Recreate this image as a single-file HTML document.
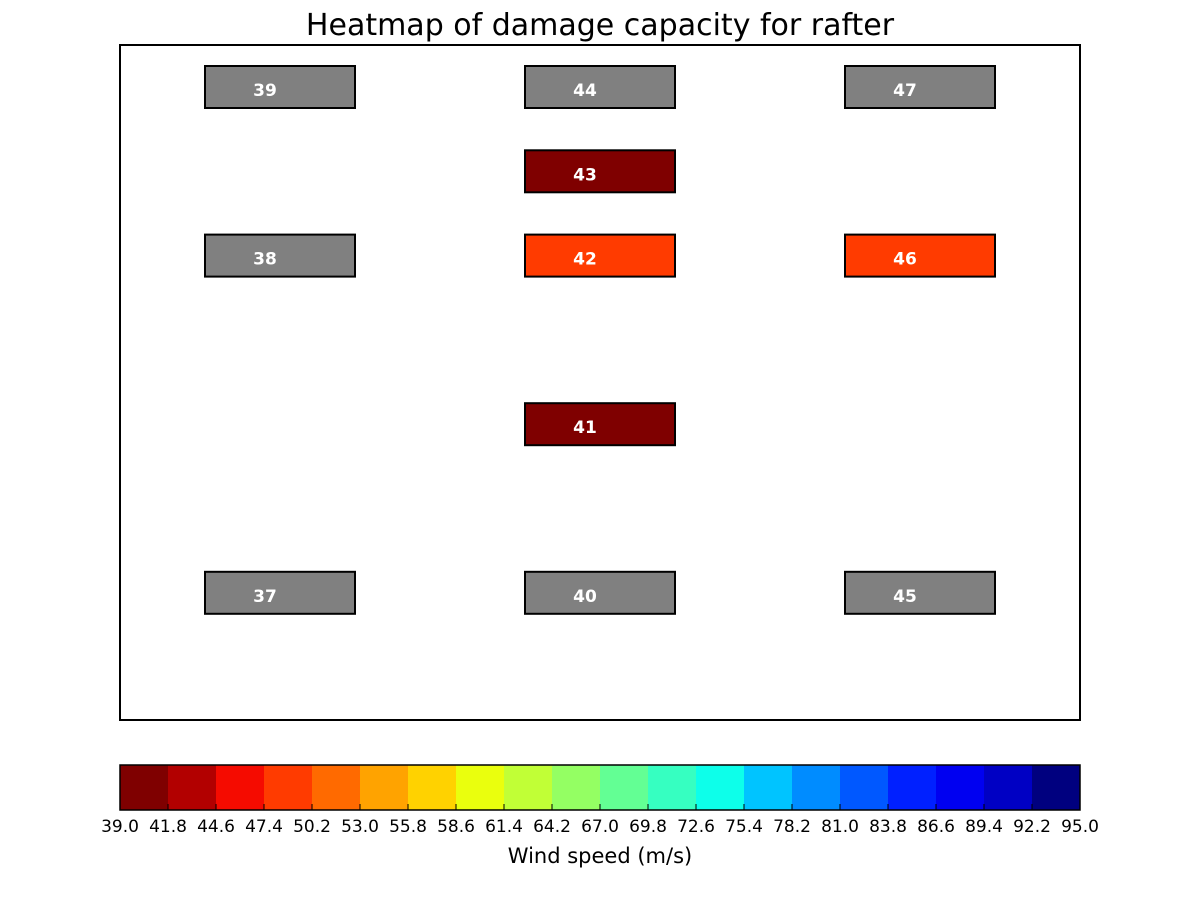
<!DOCTYPE html>
<html><head><meta charset="utf-8"><style>
html,body{margin:0;padding:0;background:#fff;}
svg{display:block;font-family:"DejaVu Sans","Liberation Sans",sans-serif;}
</style></head><body>
<svg id="chart" width="1200" height="900" xmlns="http://www.w3.org/2000/svg">
<text x="600" y="35" text-anchor="middle" font-size="30">Heatmap of damage capacity for rafter</text>
<rect x="120" y="45" width="960" height="675" fill="none" stroke="#000" stroke-width="2"/>
<g id="cells"></g>
<g id="cbar"></g>
<text x="600" y="863" text-anchor="middle" font-size="21">Wind speed (m/s)</text>
</svg>
<script>
const ids = [39,44,47,43,38,42,46,41,37,40,45];
const cols = [0,1,2,1,0,1,2,1,0,1,2];
const rows = [0,0,0,1,2,2,2,4,6,6,6];
const values = [null,null,null,40,null,48,48,40,null,null,null];
const binColors = ["#7f0000","#b20000","#f50b00","#ff3b00","#ff6a00","#ffa300","#ffd200","#eaff0d","#c1ff36","#94ff63","#63ff94","#36ffc1","#0dffea","#00c4ff","#008cff","#0058ff","#0020ff","#0000f1","#0000c4","#00007f"];
const tickLabels = ["39.0","41.8","44.6","47.4","50.2","53.0","55.8","58.6","61.4","64.2","67.0","69.8","72.6","75.4","78.2","81.0","83.8","86.6","89.4","92.2","95.0"];
const vmin=39, vmax=95;
const NS="http://www.w3.org/2000/svg";
const xCol=c=>205+c*320;
const yRow=r=>66+r*84.3;
function colorFor(v){ if(v==null) return "#808080"; let i=Math.floor((v-vmin)/(vmax-vmin)*binColors.length); i=Math.max(0,Math.min(binColors.length-1,i)); return binColors[i]; }
const gc=document.getElementById('cells');
ids.forEach((id,i)=>{
  const r=document.createElementNS(NS,'rect');
  r.setAttribute('x',xCol(cols[i]));r.setAttribute('y',yRow(rows[i]));
  r.setAttribute('width',150);r.setAttribute('height',42);
  r.setAttribute('fill',colorFor(values[i]));r.setAttribute('stroke','#000');r.setAttribute('stroke-width','2');
  
  
  gc.appendChild(r);
  const t=document.createElementNS(NS,'text');
  t.setAttribute('x',xCol(cols[i])+60);t.setAttribute('y',yRow(rows[i])+30);
  t.setAttribute('fill','#fff');t.setAttribute('font-size','17');t.setAttribute('font-weight','bold');t.setAttribute('text-anchor','middle');
  t.textContent=id;
  
  
  gc.appendChild(t);
});
const gb=document.getElementById('cbar');
const bw=960/binColors.length;
binColors.forEach((c,i)=>{
  const r=document.createElementNS(NS,'rect');
  r.setAttribute('x',120+i*bw);r.setAttribute('y',765);r.setAttribute('width',bw+0.5);r.setAttribute('height',45);r.setAttribute('fill',c);
  
  
  gb.appendChild(r);
});
const fr=document.createElementNS(NS,'rect');
fr.setAttribute('x',120);fr.setAttribute('y',765);fr.setAttribute('width',960);fr.setAttribute('height',45);fr.setAttribute('fill','none');fr.setAttribute('stroke','#000');fr.setAttribute('stroke-width','1.5');


gb.appendChild(fr);
tickLabels.forEach((l,i)=>{
  const x=120+i*960/(tickLabels.length-1);
  const tk=document.createElementNS(NS,'line');
  tk.setAttribute('x1',x);tk.setAttribute('x2',x);tk.setAttribute('y1',804);tk.setAttribute('y2',810);tk.setAttribute('stroke','#000');
  
  
  gb.appendChild(tk);
  const t=document.createElementNS(NS,'text');
  t.setAttribute('x',x);t.setAttribute('y',832);t.setAttribute('text-anchor','middle');t.setAttribute('font-size','17');
  t.textContent=l;
  
  
  gb.appendChild(t);
});
</script>
</body></html>
